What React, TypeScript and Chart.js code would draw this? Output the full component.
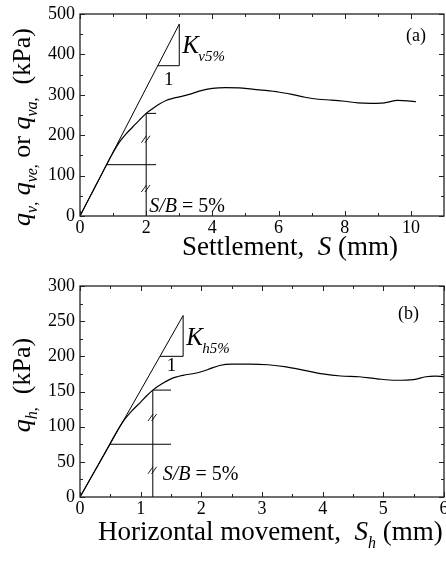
import React, { useEffect, useRef } from 'react';
import { Chart, registerables } from 'chart.js';

Chart.register(...registerables);

const FONT = '"Liberation Serif", "Times New Roman", Times, serif';

// ---------- Panel (a): vertical load vs settlement ----------
const aSettlement = [0, 0.5, 1.0, 1.1, 1.2, 1.4, 1.6, 1.8, 2.0, 2.2, 2.4, 2.6, 2.8, 3.0, 3.3, 3.6, 4.0, 4.4, 4.8, 5.2, 5.6, 6.0, 6.4, 6.8, 7.2, 7.6, 8.0, 8.4, 8.8, 9.2, 9.6, 9.9, 10.15];
const aPressure = [0, 79, 157, 171, 184, 204, 221, 238, 254, 266, 277, 286, 291, 295, 301, 309, 316, 318, 317, 314, 311, 307, 301, 294, 289, 287, 284, 280, 279, 280, 286, 285, 283];
const aXTicks = [0, 2, 4, 6, 8, 10];
const aXMinor = [1, 3, 5, 7, 9];
const aYTicks = [0, 100, 200, 300, 400, 500];
const aYMinor = [50, 150, 250, 350, 450];
const aTangentS = [0, 3];
const aTangentQ = [0, 475];
const aTriangleS = [2.35, 3, 3];
const aTriangleQ = [372, 372, 475];
const aHalfS = [0.8, 2.3];
const aHalfQ = [127, 127];
const aFivePctS = [2, 2, 2.3];
const aFivePctQ = [0, 254, 254];
const aHatchS = [2, 2];
const aHatchQ = [190, 68];

// ---------- Panel (b): horizontal load vs horizontal movement ----------
const bMovement = [0, 0.4, 0.7, 0.85, 1.0, 1.1, 1.2, 1.35, 1.5, 1.7, 1.9, 2.1, 2.3, 2.5, 2.8, 3.1, 3.4, 3.7, 4.0, 4.3, 4.6, 4.9, 5.2, 5.5, 5.7, 5.85, 6.0];
const bPressure = [0, 61, 106, 122, 135, 144, 152, 161, 168, 173, 176, 181, 187, 189, 189, 188, 185, 180, 175, 172, 171, 168, 166, 167, 171, 172, 171];
const bXTicks = [0, 1, 2, 3, 4, 5, 6];
const bXMinor = [0.5, 1.5, 2.5, 3.5, 4.5, 5.5];
const bYTicks = [0, 50, 100, 150, 200, 250, 300];
const bYMinor = [25, 75, 125, 175, 225, 275];
const bTangentS = [0, 1.7];
const bTangentQ = [0, 258];
const bTriangleS = [1.32, 1.7, 1.7];
const bTriangleQ = [200, 200, 258];
const bHalfS = [0.49, 1.5];
const bHalfQ = [75, 75];
const bFivePctS = [1.2, 1.2, 1.5];
const bFivePctQ = [0, 152, 152];
const bHatchS = [1.2, 1.2];
const bHatchQ = [113, 38];

type Seg = { t: string; it?: boolean; sub?: boolean };

function segFont(s: Seg, base: number) {
  const size = s.sub ? Math.round(base * 0.6) : base;
  return `${s.it ? 'italic ' : ''}${size}px ${FONT}`;
}
function richWidth(ctx: CanvasRenderingContext2D, segs: Seg[], base: number) {
  let w = 0;
  for (const s of segs) {
    ctx.font = segFont(s, base);
    w += ctx.measureText(s.t).width;
  }
  return w;
}
function drawRich(ctx: CanvasRenderingContext2D, segs: Seg[], x: number, y: number, base: number) {
  let cx = x;
  ctx.textBaseline = 'alphabetic';
  ctx.textAlign = 'left';
  for (const s of segs) {
    ctx.font = segFont(s, base);
    ctx.fillText(s.t, cx, s.sub ? y + base * 0.28 : y);
    cx += ctx.measureText(s.t).width;
  }
}

const zip = (xs: number[], ys: number[]) => xs.map((x, i) => ({ x, y: ys[i] }));

type Panel = {
  id: string;
  height: number;
  padTop: number;
  padRight: number;
  xAxisHeight: number;
  xMax: number;
  yMax: number;
  curveX: number[];
  curveY: number[];
  xTicks: number[];
  xMinor: number[];
  yTicks: number[];
  yMinor: number[];
  lines: [number[], number[]][];
  hatchX: number[];
  hatchY: number[];
  kSub: string;
  kAnchor: [number, number];
  oneAnchor: [number, number];
  oneDy: number;
  sbAnchor: [number, number];
  sbDx: number;
  label: string;
  labelDx: number;
  labelDy: number;
  xTitle: Seg[];
  xTitleX: number;
  xTitleY: number;
  yTitle: Seg[];
  yTitleCY: number;
};

const panels: Panel[] = [
  {
    id: 'a', height: 272, padTop: 14, padRight: 2, xAxisHeight: 56, xMax: 11, yMax: 500,
    curveX: aSettlement, curveY: aPressure,
    xTicks: aXTicks, xMinor: aXMinor, yTicks: aYTicks, yMinor: aYMinor,
    lines: [[aTangentS, aTangentQ], [aTriangleS, aTriangleQ], [aHalfS, aHalfQ], [aFivePctS, aFivePctQ]],
    hatchX: aHatchS, hatchY: aHatchQ,
    kSub: 'v5%', kAnchor: [3, 475], oneAnchor: [2.68, 372], oneDy: 19, sbAnchor: [2, 10], sbDx: 3,
    label: '(a)', labelDx: -38, labelDy: 27,
    xTitle: [{ t: 'Settlement,  ' }, { t: 'S', it: true }, { t: ' (mm)' }], xTitleX: 182, xTitleY: 255,
    yTitle: [
      { t: 'q', it: true }, { t: 'v', it: true, sub: true }, { t: ',', sub: true }, { t: ' ' },
      { t: 'q', it: true }, { t: 've', it: true, sub: true }, { t: ',', sub: true }, { t: ' or ' },
      { t: 'q', it: true }, { t: 'va', it: true, sub: true }, { t: ',', sub: true }, { t: '  (kPa)' },
    ],
    yTitleCY: 127,
  },
  {
    id: 'b', height: 290, padTop: 14, padRight: 2, xAxisHeight: 65, xMax: 6, yMax: 300,
    curveX: bMovement, curveY: bPressure,
    xTicks: bXTicks, xMinor: bXMinor, yTicks: bYTicks, yMinor: bYMinor,
    lines: [[bTangentS, bTangentQ], [bTriangleS, bTriangleQ], [bHalfS, bHalfQ], [bFivePctS, bFivePctQ]],
    hatchX: bHatchS, hatchY: bHatchQ,
    kSub: 'h5%', kAnchor: [1.7, 258], oneAnchor: [1.51, 200], oneDy: 15, sbAnchor: [1.2, 24], sbDx: 10,
    label: '(b)', labelDx: -46, labelDy: 33,
    xTitle: [{ t: 'Horizontal movement,  ' }, { t: 'S', it: true }, { t: 'h', it: true, sub: true }, { t: ' (mm)' }],
    xTitleX: 98, xTitleY: 268,
    yTitle: [{ t: 'q', it: true }, { t: 'h', it: true, sub: true }, { t: ',', sub: true }, { t: '  (kPa)' }],
    yTitleCY: 113,
  },
];

function decorPlugin(p: Panel) {
  return {
    id: 'decor' + p.id,
    afterDatasetsDraw(chart: any) {
      const ctx: CanvasRenderingContext2D = chart.ctx;
      const a = chart.chartArea;
      const xs = chart.scales.x;
      const ys = chart.scales.y;
      ctx.save();
      ctx.strokeStyle = '#222';
      ctx.lineWidth = 1.3;
      ctx.strokeRect(a.left, a.top, a.right - a.left, a.bottom - a.top);
      ctx.lineWidth = 1;
      const xt = (vals: number[], len: number) => {
        for (const v of vals) {
          const px = Math.round(xs.getPixelForValue(v)) + 0.5;
          ctx.beginPath();
          ctx.moveTo(px, a.bottom); ctx.lineTo(px, a.bottom - len);
          ctx.moveTo(px, a.top); ctx.lineTo(px, a.top + len);
          ctx.stroke();
        }
      };
      const yt = (vals: number[], len: number) => {
        for (const v of vals) {
          const py = Math.round(ys.getPixelForValue(v)) + 0.5;
          ctx.beginPath();
          ctx.moveTo(a.left, py); ctx.lineTo(a.left + len, py);
          ctx.moveTo(a.right, py); ctx.lineTo(a.right - len, py);
          ctx.stroke();
        }
      };
      xt(p.xTicks, 5); xt(p.xMinor, 3); yt(p.yTicks, 5); yt(p.yMinor, 3);

      // hatch marks
      ctx.strokeStyle = '#000';
      ctx.lineWidth = 0.9;
      p.hatchX.forEach((hx, i) => {
        const px = xs.getPixelForValue(hx);
        const py = ys.getPixelForValue(p.hatchY[i]);
        for (const o of [-1.8, 1.8]) {
          ctx.beginPath();
          ctx.moveTo(px - 3 + o, py + 3.5);
          ctx.lineTo(px + 2 + o, py - 3.5);
          ctx.stroke();
        }
      });

      ctx.fillStyle = '#000';
      // K label
      const kx = xs.getPixelForValue(p.kAnchor[0]);
      const ky = ys.getPixelForValue(p.kAnchor[1]);
      drawRich(ctx, [{ t: 'K', it: true }], kx + 3, ky + 29, 25);
      ctx.font = `italic 15px ${FONT}`;
      ctx.fillText(p.kSub, kx + 19, ky + 37);
      // "1"
      ctx.font = `19px ${FONT}`;
      ctx.textAlign = 'center';
      ctx.fillText('1', xs.getPixelForValue(p.oneAnchor[0]), ys.getPixelForValue(p.oneAnchor[1]) + p.oneDy);
      // S/B = 5%
      drawRich(ctx, [{ t: 'S/B', it: true }, { t: ' = 5%' }], xs.getPixelForValue(p.sbAnchor[0]) + p.sbDx, ys.getPixelForValue(p.sbAnchor[1]), 20);
      // panel label
      drawRich(ctx, [{ t: p.label }], a.right + p.labelDx, a.top + p.labelDy, 18);

      // axis titles
      drawRich(ctx, p.xTitle, p.xTitleX, p.xTitleY, 27);
      const w = richWidth(ctx, p.yTitle, 26);
      ctx.save();
      ctx.translate(30, p.yTitleCY);
      ctx.rotate(-Math.PI / 2);
      drawRich(ctx, p.yTitle, -w / 2, 0, 26);
      ctx.restore();
      ctx.restore();
    },
  };
}

function PanelChart({ p }: { p: Panel }) {
  const ref = useRef<HTMLCanvasElement>(null);
  useEffect(() => {
    if (!ref.current) return;
    const lineDs = p.lines.map(([lx, ly]) => ({
      data: zip(lx, ly), showLine: true, borderColor: '#000', borderWidth: 1, pointRadius: 0, tension: 0,
    }));
    const fitZero = (s: any) => { s.paddingTop = 0; s.paddingBottom = 0; s.paddingLeft = 0; s.paddingRight = 0; };
    const chart = new Chart(ref.current, {
      type: 'scatter',
      data: {
        datasets: [
          { data: zip(p.curveX, p.curveY), showLine: true, borderColor: '#000', borderWidth: 1.2, pointRadius: 0, cubicInterpolationMode: 'monotone' } as any,
          ...lineDs,
        ],
      },
      options: {
        animation: false,
        responsive: false,
        events: [],
        layout: { padding: { top: p.padTop, right: p.padRight, left: 0, bottom: 0 } },
        plugins: { legend: { display: false }, tooltip: { enabled: false } },
        scales: {
          x: {
            type: 'linear', min: 0, max: p.xMax,
            grid: { display: false, drawTicks: false, tickLength: 0 }, border: { display: false },
            ticks: { color: '#000', font: { family: FONT, size: 18 }, padding: 1, maxRotation: 0, autoSkip: false },
            afterBuildTicks: (s: any) => { s.ticks = p.xTicks.map((v) => ({ value: v })); },
            afterFit: (s: any) => { s.height = p.xAxisHeight; fitZero(s); },
          },
          y: {
            type: 'linear', min: 0, max: p.yMax,
            grid: { display: false, drawTicks: false, tickLength: 0 }, border: { display: false },
            ticks: { color: '#000', font: { family: FONT, size: 18 }, padding: 5, autoSkip: false },
            afterBuildTicks: (s: any) => { s.ticks = p.yTicks.map((v) => ({ value: v })); },
            afterFit: (s: any) => { s.width = 80; fitZero(s); },
          },
        },
      } as any,
      plugins: [decorPlugin(p)],
    });
    return () => chart.destroy();
  }, [p]);
  return <canvas ref={ref} width={446} height={p.height} style={{ display: 'block' }} />;
}

export default function App() {
  return (
    <div style={{ position: 'absolute', left: 0, top: 0, width: 446, height: 562, background: '#fff' }}>
      {panels.map((p) => (
        <PanelChart key={p.id} p={p} />
      ))}
    </div>
  );
}
